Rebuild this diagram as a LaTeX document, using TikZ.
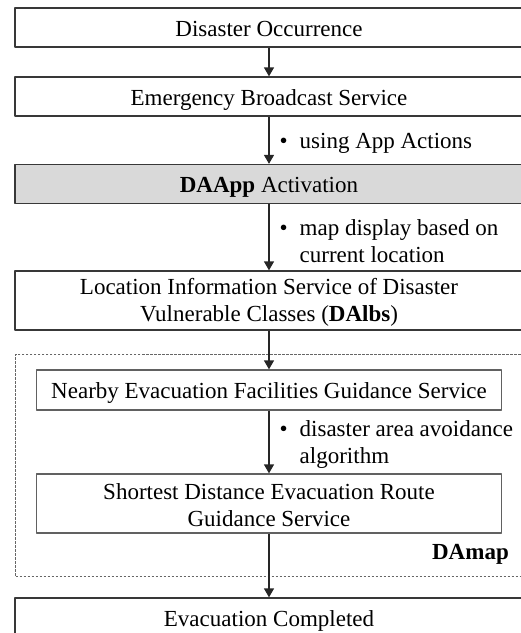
\documentclass[tikz,border=0pt]{standalone}
\usepackage{fontspec}
\setmainfont{Liberation Serif}
\usetikzlibrary{positioning,arrows.meta}
\begin{document}
\begin{tikzpicture}[x=1pt,y=-1pt,font=\fontsize{23}{27}\selectfont,line join=round,>={Triangle[width=10pt,length=9pt]}]
\tikzset{
  stepbox/.style={draw=black!78,line width=1.3pt,minimum width=508pt,minimum height=39pt,inner sep=0pt,align=center},
  innerbox/.style={draw=black!62,line width=1.3pt,minimum width=465pt,minimum height=40pt,inner sep=0pt,align=center},
  oneline/.style={text height=17pt,text depth=0pt},
  twolines/.style={minimum height=59pt},
  flow/.style={->,line width=1.3pt,black!85},
  note/.style={anchor=base west,inner sep=0pt},
}
\newcommand{\bulletcol}{\makebox[20pt][l]{\textbullet}}
\newcommand{\toprule}{\rule{0pt}{20pt}}
\useasboundingbox (0,0) rectangle (521,633);
\clip (0,0) rectangle (521,633);

% frame of the map part
\node[draw=black!60,line width=0.9pt,dash pattern=on 2.5pt off 1.5pt,minimum width=507.5pt,minimum height=222pt,inner sep=0pt] (mapframe) at (269.25,465) {};
\node[anchor=base east,inner sep=0pt] (damap) at (509,559) {\textbf{DAmap}};

% steps
\node[stepbox,oneline] (occur) at (269,27.5) {Disaster Occurrence};
\node[stepbox,oneline] (ebs) at (269,96.5) {Emergency Broadcast Service};
\node[stepbox,oneline,fill=black!15] (app) at (269,184) {\textbf{DAApp} Activation};
\node[stepbox,twolines] (albs) at (269,300.5) {\toprule Location Information Service of Disaster\\Vulnerable Classes (\textbf{DAlbs})};
\node[innerbox,oneline] (near) at (269,390) {Nearby Evacuation Facilities Guidance Service};
\node[innerbox,twolines] (route) at (269,503.5) {\toprule Shortest Distance Evacuation Route\\Guidance Service};
\node[stepbox,oneline] (done) at (269,617.5) {Evacuation Completed};

\draw[flow] (occur) -- (ebs);
\draw[flow] (ebs) -- (app);
\draw[flow] (app) -- (albs);
\draw[flow] (albs) -- (near);
\draw[flow] (near) -- (route);
\draw[flow] (route) -- (done);

% notes beside the arrows
\node[note] (n1) at (279.5,148) {\begin{tabular}[t]{@{}l@{}l@{}}\bulletcol & using App Actions\end{tabular}};
\node[note] (n2) at (279.5,235) {\begin{tabular}[t]{@{}l@{}l@{}}\bulletcol & map display based on\\ & current location\end{tabular}};
\node[note] (n3) at (279.5,436) {\begin{tabular}[t]{@{}l@{}l@{}}\bulletcol & disaster area avoidance\\ & algorithm\end{tabular}};
\end{tikzpicture}
\end{document}
